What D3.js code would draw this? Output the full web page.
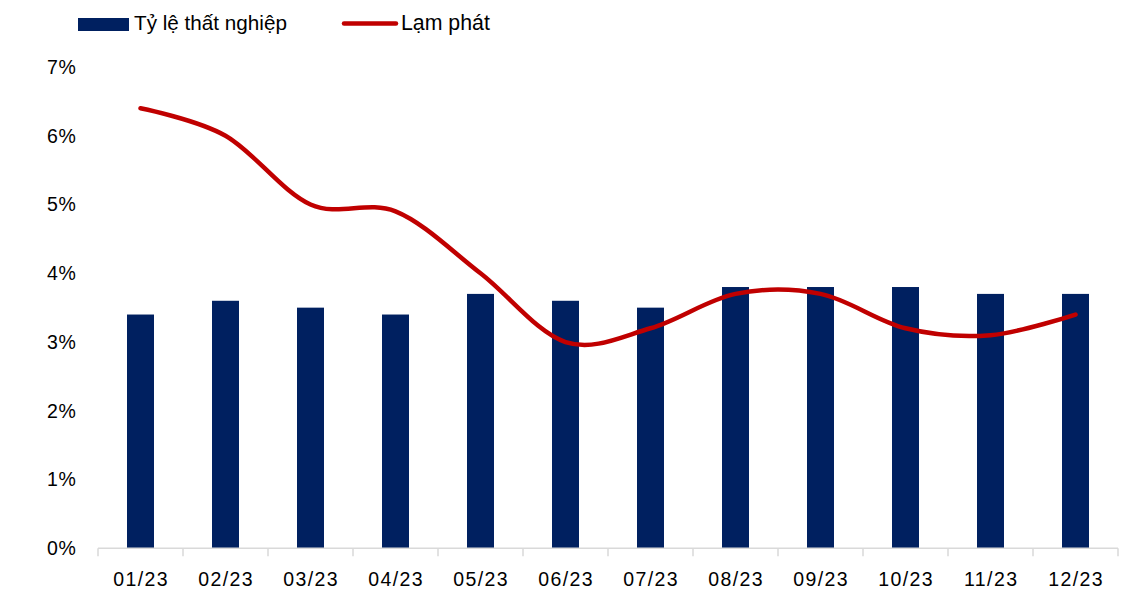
<!DOCTYPE html>
<html>
<head>
<meta charset="utf-8">
<script src="https://cdn.jsdelivr.net/npm/d3@7"></script>
<style>
  html, body { margin: 0; padding: 0; background: #fff; }
  svg { display: block; font-family: "Liberation Sans", Arial, sans-serif; }
</style>
</head>
<body>
<svg id="chart" width="1140" height="593"></svg>
<script>
// Monthly labels, unemployment rate (bars) and inflation (smoothed line), in %
const months = ["01/23","02/23","03/23","04/23","05/23","06/23","07/23","08/23","09/23","10/23","11/23","12/23"];
const unemployment = [3.4, 3.6, 3.5, 3.4, 3.7, 3.6, 3.5, 3.8, 3.8, 3.8, 3.7, 3.7];
const inflation = [6.4, 6.0, 5.0, 4.9, 4.0, 3.0, 3.2, 3.7, 3.7, 3.2, 3.1, 3.4];
const yTicks = [0, 1, 2, 3, 4, 5, 6, 7];
const seriesNames = ["Tỷ lệ thất nghiệp", "Lạm phát"];

const barColor = "#002060";
const lineColor = "#C00000";

const svg = d3.select("#chart");

const x = d3.scaleBand().domain(months).range([98, 1118]).paddingInner(0).paddingOuter(0);
const y = d3.scaleLinear().domain([0, 7]).range([548.3, 67]);

// Y axis labels (no axis line, no gridlines)
const yAxis = d3.axisLeft(y).tickValues(yTicks).tickFormat(d => d + "%").tickSize(0).tickPadding(0);
const gy = svg.append("g").attr("transform", "translate(76.5,0)").call(yAxis);
gy.select(".domain").remove();
gy.selectAll("text")
  .attr("font-size", "19.5px")
  .attr("letter-spacing", "0.6px")
  .attr("font-family", "Liberation Sans, Arial, sans-serif")
  .attr("fill", "#000");

// Bars
const barW = 27;
svg.append("g").selectAll("rect")
  .data(months)
  .join("rect")
  .attr("x", (d) => x(d) + x.bandwidth() / 2 - barW / 2)
  .attr("width", barW)
  .attr("y", (d, i) => y(unemployment[i]))
  .attr("height", (d, i) => y(0) - y(unemployment[i]))
  .attr("fill", barColor);

// X axis: baseline with tick marks at category boundaries
const gx = svg.append("g").attr("transform", `translate(0,${y(0)})`);
gx.append("line")
  .attr("x1", x.range()[0]).attr("x2", x.range()[1])
  .attr("y1", 0).attr("y2", 0)
  .attr("stroke", "#d9d9d9").attr("stroke-width", 1.5);
const bounds = months.map(m => x(m)).concat([x.range()[1]]);
gx.selectAll("line.tick")
  .data(bounds)
  .join("line")
  .attr("class", "tick")
  .attr("x1", d => d).attr("x2", d => d)
  .attr("y1", 0).attr("y2", 8)
  .attr("stroke", "#d9d9d9").attr("stroke-width", 1.5);
const xAxis = d3.axisBottom(x).tickSize(0).tickPadding(0);
const gxl = svg.append("g").attr("transform", `translate(0.7,${y(0) + 24})`).call(xAxis);
gxl.select(".domain").remove();
gxl.selectAll("text")
  .attr("dy", "0.71em")
  .attr("font-size", "19.5px")
  .attr("letter-spacing", "1.4px")
  .attr("font-family", "Liberation Sans, Arial, sans-serif")
  .attr("fill", "#000");

// Inflation line (smoothed)
const line = d3.line()
  .x((d, i) => x(months[i]) + x.bandwidth() / 2)
  .y(d => y(d))
  .curve(d3.curveCatmullRom.alpha(0));
svg.append("path")
  .datum(inflation)
  .attr("d", line)
  .attr("fill", "none")
  .attr("stroke", lineColor)
  .attr("stroke-width", 4.5)
  .attr("stroke-linecap", "round")
  .attr("stroke-linejoin", "round");

// Legend
const legend = svg.append("g");
legend.append("rect")
  .attr("x", 78).attr("y", 18).attr("width", 51).attr("height", 13)
  .attr("fill", barColor);
legend.append("text")
  .attr("x", 134).attr("y", 30)
  .attr("font-size", "20.7px")
  .attr("fill", "#000")
  .text(seriesNames[0]);
legend.append("line")
  .attr("x1", 344).attr("x2", 396).attr("y1", 23.5).attr("y2", 23.5)
  .attr("stroke", lineColor).attr("stroke-width", 4.5)
  .attr("stroke-linecap", "round");
legend.append("text")
  .attr("x", 401).attr("y", 30)
  .attr("font-size", "21.3px")
  .attr("fill", "#000")
  .text(seriesNames[1]);
</script>
</body>
</html>
